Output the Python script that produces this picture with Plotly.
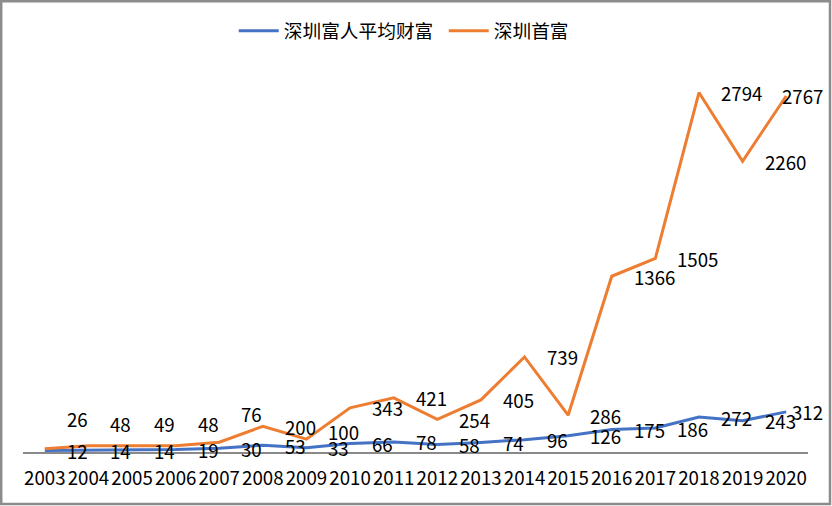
import plotly.graph_objects as go

years = ["2003", "2004", "2005", "2006", "2007", "2008", "2009", "2010", "2011",
         "2012", "2013", "2014", "2015", "2016", "2017", "2018", "2019", "2020"]
avg_wealth = [12, 14, 14, 19, 30, 53, 33, 66, 78, 58, 74, 96, 126, 175, 186, 272, 243, 312]
richest = [26, 48, 49, 48, 76, 200, 100, 343, 421, 254, 405, 739, 286, 1366, 1505, 2794, 2260, 2767]

name_avg = "深圳富人平均财富"
name_top = "深圳首富"

# label offsets (pixels), styling only
top_yshift = [30, 22, 22, 22, 29, 0, 8, 0, 0, 0, 0, 0, 0, 0, 0, 0, 0, 0]
top_xshift = [20] * 17 + [-6]
avg_yshift = [0] * 18
avg_xshift = [20] * 17 + [4]

BLUE = "#4472C4"
ORANGE = "#ED7D31"
FONT = "Noto Sans CJK SC, Liberation Sans, sans-serif"

xs = list(range(len(years)))

fig = go.Figure()
fig.add_trace(go.Scatter(x=xs, y=avg_wealth, mode="lines", name=name_avg,
                         line=dict(color=BLUE, width=3)))
fig.add_trace(go.Scatter(x=xs, y=richest, mode="lines", name=name_top,
                         line=dict(color=ORANGE, width=3)))

annotations = []
for i, v in enumerate(avg_wealth):
    annotations.append(dict(x=xs[i], y=v, text=str(v), showarrow=False,
                            xanchor="left", yanchor="middle",
                            xshift=avg_xshift[i], yshift=avg_yshift[i],
                            font=dict(size=18.7, color="#000000", family=FONT)))
for i, v in enumerate(richest):
    annotations.append(dict(x=xs[i], y=v, text=str(v), showarrow=False,
                            xanchor="left", yanchor="middle",
                            xshift=top_xshift[i], yshift=top_yshift[i],
                            font=dict(size=18.7, color="#000000", family=FONT)))

L, R, T, B = 23, 24, 66, 54
W, H = 832, 506
pw, ph = W - L - R, H - T - B

fig.update_layout(
    width=W, height=H,
    margin=dict(l=L, r=R, t=T, b=B, pad=0),
    paper_bgcolor="white", plot_bgcolor="white",
    font=dict(family=FONT, size=18.7, color="#000000"),
    showlegend=True,
    legend=dict(orientation="h", x=0.536, xanchor="center",
                y=1 + (T - 31) / ph, yanchor="middle",
                font=dict(size=18.7, family=FONT, color="#000000"),
                bgcolor="rgba(0,0,0,0)", itemwidth=40,
                entrywidth=155, entrywidthmode="pixels"),
    xaxis=dict(range=[-0.5, len(years) - 0.5], tickmode="array",
               tickvals=xs, ticktext=years, showgrid=False, zeroline=False,
               showline=True, linecolor="#898989", linewidth=2,
               ticks="", ticklabelstandoff=9,
               tickfont=dict(size=18.7, family=FONT, color="#000000")),
    yaxis=dict(range=[0, 3000], visible=False, showgrid=False, zeroline=False),
    annotations=annotations,
    shapes=[dict(type="rect", xref="paper", yref="paper",
                 x0=(1.2 - L) / pw, x1=(830 - L) / pw,
                 y0=(T + ph - 504) / ph, y1=(T + ph - 1.2) / ph,
                 line=dict(color="#8c8c8c", width=2.5), layer="above")],
)

fig.write_html("out.html")
